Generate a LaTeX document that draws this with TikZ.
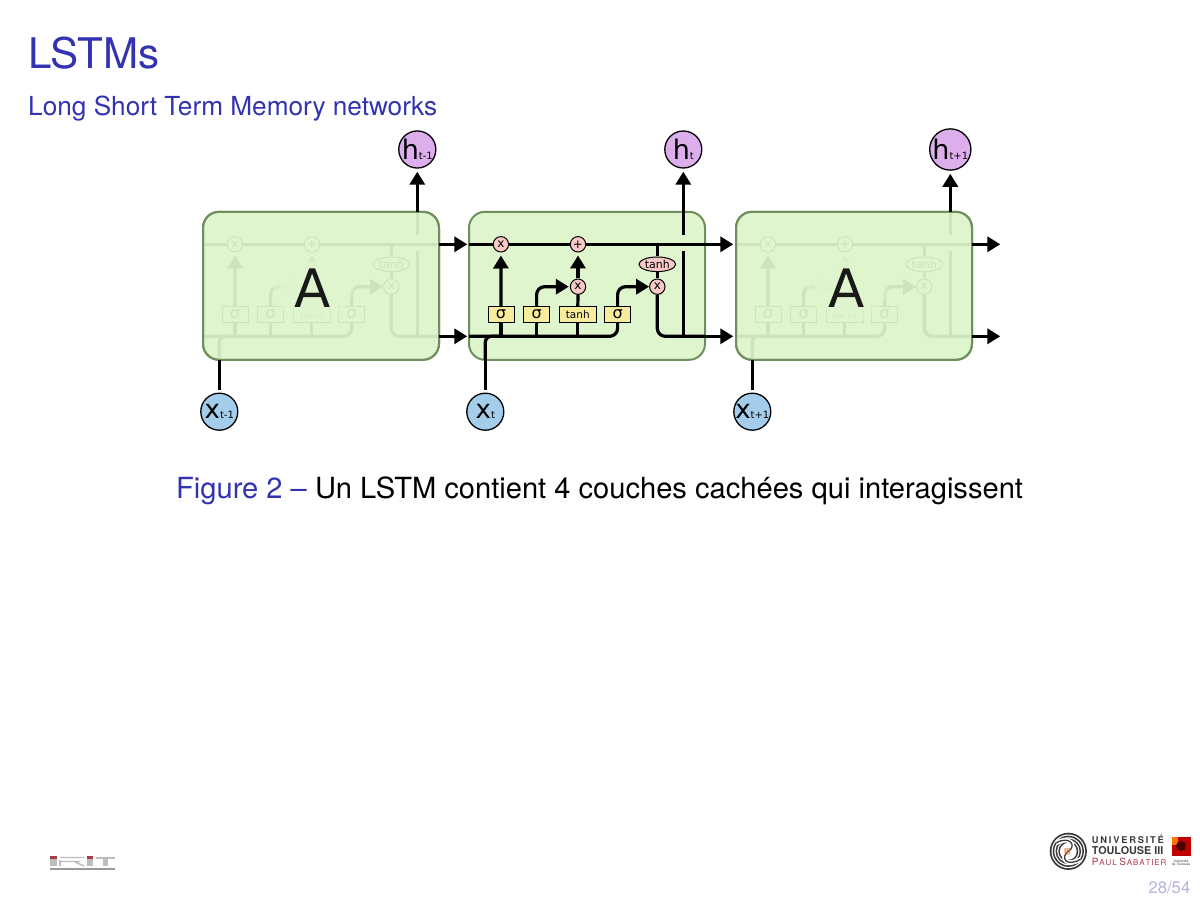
\documentclass[tikz,border=0pt]{standalone}
\usepackage{fontspec}
\setmainfont{TeX Gyre Heros}
\newfontfamily\dejafont{DejaVu Sans}
\usetikzlibrary{arrows.meta,shapes.geometric}
\definecolor{beamblue}{rgb}{0.2,0.2,0.7}
\definecolor{boxfill}{HTML}{DFF5CD}
\definecolor{boxline}{HTML}{6F8F5C}
\definecolor{pinkfill}{HTML}{F8C9C6}
\definecolor{yelfill}{HTML}{F7EC9E}
\definecolor{hfill}{HTML}{DCAEEC}
\definecolor{xfill}{HTML}{A4CDEC}
\definecolor{faintline}{HTML}{CDE3BC}
\definecolor{pagecol}{HTML}{B4B4E2}
\definecolor{univdark}{HTML}{3A3A3A}
\definecolor{univred}{HTML}{A83A48}
\definecolor{iritgrey}{HTML}{BDBDBD}
\newcommand{\fsz}[1]{\fontsize{#1}{#1}\selectfont}
\tikzset{
  wire/.style={line width=3.2pt,line cap=butt},
  tip/.style={-{Triangle[length=13pt,width=15pt]}},
  cellbox/.style={draw=boxline,fill=boxfill,line width=2pt,rounded corners=16pt},
  celledge/.style={draw=boxline,line width=2pt,rounded corners=16pt},
  opcirc/.style={circle,draw=ctext,fill=cpink,line width=1pt,minimum size=15.4pt,inner sep=0pt,text=ctext,font=\dejafont\fsz{12}},
  opell/.style={ellipse,draw=ctext,fill=cpink,line width=1pt,minimum width=36.6pt,minimum height=14.6pt,inner sep=0pt,text=ctext,font=\dejafont\fsz{11}},
  layerbox/.style={rectangle,draw=ctext,fill=cyel,line width=1pt,minimum height=15.6pt,inner sep=0pt,text=ctext,font=\dejafont\fsz{16}},
  vect/.style={circle,draw=black,line width=1.3pt,minimum size=37pt,inner sep=0pt,font=\dejafont},
  sideText/.style={anchor=base west,inner sep=0pt},
  bigA/.style={font=\dejafont\fsz{53},text=black!90,inner sep=0pt,text depth=0pt},
}
% #1 prefix, #2 x offset, #3 h subscript, #4 x subscript
\newcommand{\lstmcell}[4]{%
\begin{scope}[xshift=#2pt]
  \path[cellbox] (469,211.8) rectangle (705,359.8);
  \coordinate (#1cin1) at (469,244.3);
  \coordinate (#1cin2) at (469,336.3);
  \coordinate (#1edge1) at (705,244.3);
  \coordinate (#1edge2) at (705,336.3);
  \coordinate (#1tip1) at (733.3,244.3);
  \coordinate (#1tip2) at (733.3,336.3);
  \coordinate (#1hb) at (683.3,336.3);
  \coordinate (#1gapb) at (683.3,251);
  \coordinate (#1gapa) at (683.3,235);
  \coordinate (#1top) at (683.3,211.8);
  \coordinate (#1xbot) at (485.3,359.8);
  \coordinate (#1xj) at (500,336.3);
  \node[opcirc] (#1mul1) at (500.9,244.3) {x};
  \node[opcirc] (#1add) at (578,244.3) {+};
  \node[opcirc] (#1mul2) at (578,286.7) {\midx};
  \node[opcirc] (#1mul3) at (657.3,286.7) {x};
  \node[opell] (#1tanhe) at (657.3,264.3) {tanh};
  \node[layerbox,minimum width=26pt] (#1s1) at (501,314.5) {σ};
  \node[layerbox,minimum width=26pt] (#1s2) at (536.6,314.5) {σ};
  \node[layerbox,minimum width=36.4pt,font=\dejafont\fsz{10.5}] (#1th) at (577.8,314.3) {tanh};
  \node[layerbox,minimum width=26pt] (#1s4) at (617.6,314.5) {σ};
  \begin{scope}[wire,draw=cline]
    \draw (#1cin1) -- (#1mul1);
    \draw (#1mul1) -- (#1add);
    \draw (#1add) -- (#1edge1);
    \draw[rounded corners=8pt] (#1cin2) -| (#1s4.south);
    \draw[rounded corners=8pt] (#1mul3.south) |- (#1edge2);
    \draw (#1s1 |- #1cin2) -- (#1s1.south);
    \draw (#1s2 |- #1cin2) -- (#1s2.south);
    \draw (#1th |- #1cin2) -- (#1th.south);
    \draw[tip,shorten >=3pt] (#1s1.north) -- (#1mul1.south);
    \draw[tip,rounded corners=8pt,shorten >=1pt] (#1s2.north) |- (#1mul2.west);
    \draw[tip,rounded corners=8pt] (#1s4.north) |- (#1mul3.west);
    \draw (#1th.north) -- (#1mul2.south);
    \draw[tip,shorten >=3pt] (#1mul2.north) -- (#1add.south);
    \draw (#1tanhe |- #1cin1) -- (#1tanhe.north);
    \draw (#1tanhe.south) -- (#1mul3.north);
    \draw (#1hb) -- (#1gapb);
    \draw (#1gapa) -- (#1top);
    \draw[rounded corners=6pt] (#1xbot) |- (#1xj);
  \end{scope}
  \cellborder
  \node[vect,fill=hfill] (#1h) at (683.3,149.5) {\fsz{27}h\fsz{10}#3};
  \node[vect,fill=xfill] (#1x) at (485.3,411.7) {\fsz{26}x\fsz{10}#4};
  \draw[wire,tip,shorten >=3pt] (#1top) -- (#1h.south);
  \draw[wire,shorten <=3pt] (#1x.north) -- (#1xbot);
  \draw[wire,tip] (#1edge1) -- (#1tip1);
  \draw[wire,tip] (#1edge2) -- (#1tip2);
\end{scope}}
\newcommand{\spreadtext}[2]{\hbox to #1pt{#2}}
\begin{document}
\begin{tikzpicture}[x=1pt,y=-1pt]
\useasboundingbox (0,0) rectangle (1200,901);
\fill[white] (0,0) rectangle (1200,901);
\node[sideText,text=beamblue,font=\fsz{42.2}] (title) at (28,68.5) {LSTMs};
\node[sideText,text=beamblue,font=\fsz{26.2}] (subtitle) at (28,115.6) {Long Short Term Memory networks};

% left and right cells, seen through the green box
\colorlet{cline}{faintline}\colorlet{cpink}{boxfill}\colorlet{cyel}{boxfill}\colorlet{ctext}{faintline}
\def\midx{}
\def\cellborder{\path[celledge] (469,211.8) rectangle (705,359.8);}
\lstmcell{a}{-266}{t-1}{t-1}
\fill[boxfill,opacity=.45] (313,288) ellipse (40pt and 34pt);
\fill[boxfill,opacity=.8] (313,288) ellipse (32pt and 27pt);
\node[bigA] (Aa) at (313,287.8) {A};
\lstmcell{c}{267}{t+1}{t+1}
\fill[boxfill,opacity=.45] (846.7,288) ellipse (40pt and 34pt);
\fill[boxfill,opacity=.8] (846.7,288) ellipse (32pt and 27pt);
\node[bigA] (Ac) at (846.7,287.8) {A};
% middle cell
\colorlet{cline}{black}\colorlet{cpink}{pinkfill}\colorlet{cyel}{yelfill}\colorlet{ctext}{black}
\def\midx{x}
\def\cellborder{}
\lstmcell{b}{0}{t}{t}

% caption
\node[sideText,font=\fsz{29.1}] (caption) at (176,498) {\textcolor{beamblue}{Figure 2 –} Un LSTM contient 4 couches cachées qui interagissent};

% IRIT logo
\begin{scope}[iritgrey]
  \fill (50,857) rectangle (57,866);
  \draw[line width=1.2pt] (60,859.5) -- (60,866);
  \draw[line width=1.4pt] (60,857.5) -- (84,857.5) (60,861.5) -- (80,861.5) (74,861.5) -- (84,866);
  \fill (87,857) rectangle (93,866);
  \fill (96,856.5) rectangle (115,859);
  \fill (103,859) rectangle (108,866);
  \fill[black!40] (50,868) rectangle (115,870.4);
\end{scope}
\fill[univred] (50,856) rectangle (56.7,859);
\fill[univred] (86.7,856) rectangle (93.3,859);

% university logo
\foreach \r/\c in {18.6/univdark,16.8/white,15.6/univdark,14/white,12.8/univdark,11.2/white,10/univdark,8.4/white}
  \fill[\c] (1068.3,851.3) circle (\r pt);
\draw[white,line width=4.5pt] (1056,843) .. controls (1070,835) and (1077,846) .. (1068.3,851.3) .. controls (1060,857) and (1066,868) .. (1081,859);
\draw[univdark,line width=1.3pt] (1056,843) .. controls (1070,835) and (1077,846) .. (1068.3,851.3) .. controls (1060,857) and (1066,868) .. (1081,859);
\fill[orange!80!red] (1064.5,848) rectangle (1065.7,854.5) (1066.5,848) rectangle (1067.7,854.5) (1068.5,848) rectangle (1069.7,854.5);
\node[sideText,font=\bfseries\fsz{9.3},text=univdark] (univ1) at (1091.7,843.6) {\spreadtext{72}{U\hfil N\hfil I\hfil V\hfil E\hfil R\hfil S\hfil I\hfil T\hfil É}};
\node[sideText,font=\bfseries\fsz{10.8},text=univdark] (univ2) at (1091.7,854) {TOULOUSE III};
\node[sideText,font=\fsz{8},text=univred] (univ3) at (1091.7,865.5) {\spreadtext{74.5}{{\fsz{10}P}\hfil A\hfil U\hfil L\hfil\hfil\hfil {\fsz{10}S}\hfil A\hfil B\hfil A\hfil T\hfil I\hfil E\hfil R}};
\fill[red!75!black] (1171.7,836.7) rectangle (1190.7,855.7);
\fill[orange!90!red] (1171.7,836.7) rectangle (1178,845);
\fill[black!70!red] (1181,846) circle (5pt);
\node[font=\fsz{3.4},text=univdark,align=center,inner sep=0pt] (univ4) at (1181,862.5) {Université\\de Toulouse};

\node[anchor=base east,inner sep=0pt,font=\fsz{16.7},text=pagecol] (page) at (1190.5,893) {28/54};
\end{tikzpicture}
\end{document}
